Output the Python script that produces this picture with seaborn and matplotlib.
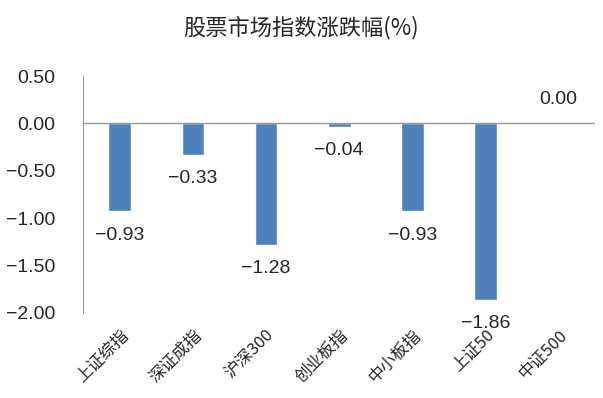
import matplotlib
matplotlib.use("Agg")
import matplotlib.pyplot as plt
import seaborn as sns
import pandas as pd

categories = ["上证综指", "深证成指", "沪深300", "创业板指", "中小板指", "上证50", "中证500"]
values = [-0.93, -0.33, -1.28, -0.04, -0.93, -1.86, 0.00]
yticks = [0.5, 0.0, -0.5, -1.0, -1.5, -2.0]

sns.set_style("white")
plt.rcParams['font.family'] = ['Noto Sans CJK SC', 'DejaVu Sans']
plt.rcParams['axes.unicode_minus'] = True

df = pd.DataFrame({"idx": categories, "chg": values})
num_font = ['Liberation Sans', 'DejaVu Sans']

fig = plt.figure(figsize=(6.03, 3.98), dpi=100)
ax = fig.add_axes([0.138, 0.214, 0.849, 0.595])
sns.barplot(data=df, x="idx", y="chg", color="#4F81BD", width=0.31, saturation=1, ax=ax)

ax.set_ylim(-2.0, 0.5)
ax.set_yticks(yticks)
ax.set_yticklabels([f"{t:.2f}".replace("-", "\u2212") for t in yticks], fontsize=14, family=num_font)
ax.tick_params(axis='y', length=0, pad=20)
ax.tick_params(axis='x', length=0, pad=10)
ax.set_xlim(-0.5, len(categories) - 0.5)
ax.axhline(0, color="#999999", lw=1)
for s in ["top", "right", "bottom"]:
    ax.spines[s].set_visible(False)
ax.spines["left"].set_color("#999999")
ax.set_xlabel("")
ax.set_ylabel("")

ax.set_xticks(range(len(categories)))
ax.set_xticklabels(categories, rotation=45, ha="right", rotation_mode="anchor", fontsize=12)

for i, v in enumerate(values):
    lbl = f"{v:.2f}".replace("-", "\u2212")
    off = -17 if v < 0 else 17
    ax.annotate(lbl, (i, v), xytext=(0, off), textcoords="offset points", ha="center", va="center",
                fontsize=14, family=num_font)

fig.suptitle("股票市场指数涨跌幅(%)", y=0.93, va="center", fontsize=16)
fig.savefig("out.png", dpi=100)
